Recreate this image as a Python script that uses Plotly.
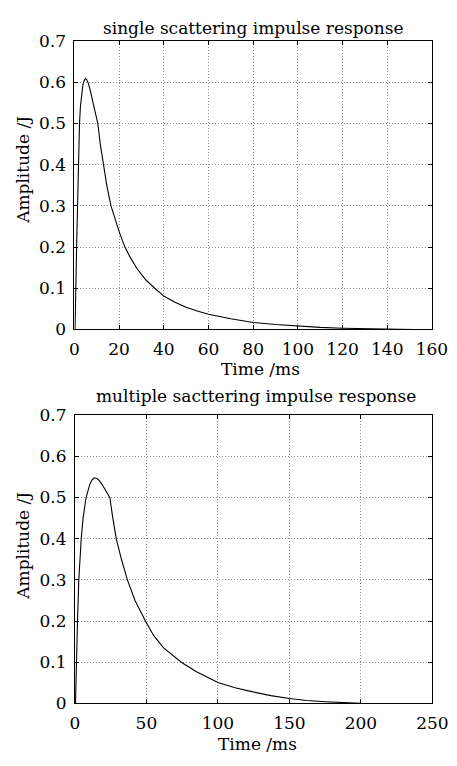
import plotly.graph_objects as go

# ---- data ----
t_single = [0, 0.3, 1.0, 1.7, 2.3, 2.7, 3.2, 3.8, 4.4, 5.0, 5.6, 6.3, 7.0, 8.1, 9.3, 10.5,
            11.6, 12.9, 14.5, 16.4, 18.0, 20.0, 22.6, 25, 28, 32, 36, 40, 45, 50, 55, 60,
            70, 80, 90, 100, 110, 120, 130, 140, 152]
a_single = [0, 0, 0.2, 0.4, 0.5, 0.54, 0.57, 0.593, 0.605, 0.609, 0.606, 0.597, 0.583, 0.555,
            0.528, 0.5, 0.45, 0.4, 0.35, 0.3, 0.27, 0.238, 0.2, 0.175, 0.148, 0.12, 0.1,
            0.081, 0.066, 0.054, 0.045, 0.037, 0.026, 0.017, 0.012, 0.008, 0.005, 0.003,
            0.002, 0.001, 0]

t_multi = [0, 0.4, 1.8, 2.7, 4.4, 5.7, 7.8, 9.0, 10.5, 12.0, 13.5, 15.0, 16.8, 18.9, 21,
           22.8, 24.4, 26.5, 28.9, 32.5, 36.7, 42, 49.3, 55, 62, 74.4, 85, 100, 112, 124.4,
           137, 150, 162, 175, 187, 200]
a_multi = [0, 0, 0.2, 0.3, 0.4, 0.45, 0.5, 0.518, 0.533, 0.543, 0.548, 0.547, 0.542, 0.532,
           0.52, 0.51, 0.5, 0.45, 0.4, 0.35, 0.3, 0.25, 0.2, 0.165, 0.135, 0.1, 0.077,
           0.051, 0.038, 0.028, 0.019, 0.012, 0.007, 0.004, 0.002, 0]

titles = ["single scattering impulse response", "multiple sacttering impulse response"]
x_label = "Time /ms"
y_label = "Amplitude /J"
x_ticks_single = [0, 20, 40, 60, 80, 100, 120, 140, 160]
x_ticks_multi = [0, 50, 100, 150, 200, 250]
y_ticks = [0, 0.1, 0.2, 0.3, 0.4, 0.5, 0.6, 0.7]
y_ticktext = ["0", "0.1", "0.2", "0.3", "0.4", "0.5", "0.6", "0.7"]

W, H = 457, 766
FONT = "DejaVu Serif"
FS = 17

fig = go.Figure()
fig.add_trace(go.Scatter(x=t_single, y=a_single, mode="lines", line=dict(color="black", width=1.1),
                         xaxis="x", yaxis="y", showlegend=False))
fig.add_trace(go.Scatter(x=t_multi, y=a_multi, mode="lines", line=dict(color="black", width=1.1),
                         xaxis="x2", yaxis="y2", showlegend=False))

def px_x(p):
    return p / W

def px_y(p):
    return 1 - p / H

axis_common = dict(
    showline=True, linecolor="black", linewidth=1, mirror="ticks",
    ticks="inside", ticklen=4, tickcolor="black",
    showgrid=True, gridcolor="#8c8c8c", griddash="1px,2px", gridwidth=1,
    zeroline=False, tickfont=dict(family=FONT, size=FS, color="black"),
    ticklabeloverflow="allow",
)

fig.update_layout(
    width=W, height=H, margin=dict(l=0, r=0, t=0, b=0), autosize=False,
    paper_bgcolor="white", plot_bgcolor="white",
    xaxis=dict(axis_common, domain=[px_x(72.7), px_x(447.5)], range=[0, 160],
               tickvals=x_ticks_single, anchor="y", ticklabelstandoff=4),
    yaxis=dict(axis_common, domain=[px_y(328), px_y(32)], range=[0, 0.7],
               tickvals=y_ticks, ticktext=y_ticktext, anchor="x", ticklabelstandoff=4),
    xaxis2=dict(axis_common, domain=[px_x(73.3), px_x(448)], range=[0, 250],
                tickvals=x_ticks_multi, anchor="y2", ticklabelstandoff=4),
    yaxis2=dict(axis_common, domain=[px_y(712), px_y(416)], range=[0, 0.7],
                tickvals=y_ticks, ticktext=y_ticktext, anchor="x2", ticklabelstandoff=4),
)

ann_font = dict(family=FONT, size=FS, color="black")
annotations = [
    dict(text=titles[0], x=px_x(260), y=px_y(18), xref="paper", yref="paper",
         xanchor="center", yanchor="middle", showarrow=False, font=ann_font),
    dict(text=titles[1], x=px_x(263), y=px_y(396), xref="paper", yref="paper",
         xanchor="center", yanchor="middle", showarrow=False, font=ann_font),
    dict(text=x_label, x=px_x(268), y=px_y(369), xref="paper", yref="paper",
         xanchor="center", yanchor="middle", showarrow=False, font=ann_font),
    dict(text=x_label, x=px_x(265), y=px_y(754), xref="paper", yref="paper",
         xanchor="center", yanchor="middle", showarrow=False, font=ann_font),
    dict(text=y_label, x=px_x(19), y=px_y(164), xref="paper", yref="paper",
         xanchor="center", yanchor="middle", showarrow=False, font=ann_font, textangle=-90),
    dict(text=y_label, x=px_x(19), y=px_y(550), xref="paper", yref="paper",
         xanchor="center", yanchor="middle", showarrow=False, font=ann_font, textangle=-90),
]
fig.update_layout(annotations=annotations)

fig.write_html(
    "out.html",
    config={"responsive": False, "displayModeBar": False},
    post_script=(
        "document.body.style.margin='0';document.body.style.overflow='hidden';"
        "var gd=document.getElementById('{plot_id}');"
        "gd.style.position='fixed';gd.style.left='0px';gd.style.top='0px';"
    ),
)
